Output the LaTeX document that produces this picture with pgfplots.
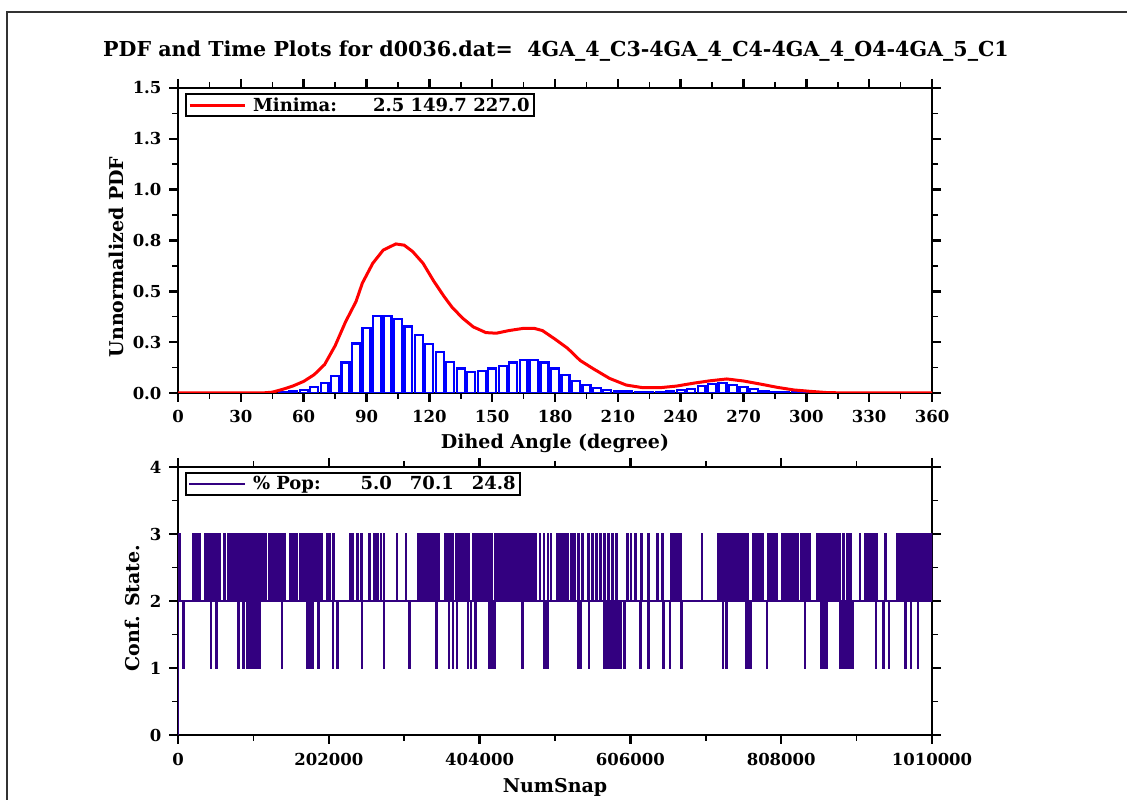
\documentclass[border=0pt]{standalone}
\usepackage{fontspec}
\setmainfont{DejaVu Serif}
\usepackage{pgfplots}
\pgfplotsset{compat=1.18}
\definecolor{pcol}{RGB}{51,0,128}
\newcommand\tf{\bfseries\fontsize{16.5}{19}\selectfont}
\newcommand\lf{\bfseries\fontsize{19}{22}\selectfont}
\pgfplotsset{
  mystyle/.style={
    scale only axis,
    anchor=south west,
    tick align=outside,
    major tick length=9pt,
    minor tick length=6pt,
    every major tick/.append style={line width=2.5pt,black},
    every minor tick/.append style={line width=1.5pt,black},
    axis line style={line width=2.8pt},
    tick label style={font=\tf},
    yticklabel style={xshift=-4pt},
    label style={font=\lf},
    scaled ticks=false,
    legend cell align=left,
    legend style={at={(axis description cs:0,1)}, anchor=north west,
      xshift=7pt, yshift=-5pt, draw=black, line width=2pt,
      inner xsep=2pt, inner ysep=1.5pt, font=\bfseries\fontsize{18}{20}\selectfont},
  }
}
\begin{document}
\begin{tikzpicture}[x=1pt,y=1pt]
\useasboundingbox (0,0) rectangle (1127,800);
\draw[line width=1.2pt, black!80] (7,0) -- (7,788) -- (1127,788);
\node[font=\bfseries\fontsize{20.6}{24}\selectfont] at (556,749) {PDF and Time Plots for d0036.dat=\ \ 4GA\_4\_C3-4GA\_4\_C4-4GA\_4\_O4-4GA\_5\_C1};

\begin{axis}[mystyle, at={(178pt,407pt)}, width=754pt, height=305pt,
  xmin=0, xmax=360, ymin=0, ymax=1.5,
  xtick={0,30,60,90,120,150,180,210,240,270,300,330,360},
  xticklabels={0,30,60,90,120,150,180,210,240,270,300,330,360},
  xticklabel style={yshift=-5pt},
  minor x tick num=1,
  ytick={0,0.25,0.5,0.75,1,1.25,1.5},
  yticklabels={0.0,0.3,0.5,0.8,1.0,1.3,1.5},
  minor y tick num=1,
  xlabel={Dihed Angle (degree)}, ylabel={Unnormalized PDF},
  xlabel style={at={(axis description cs:0.5,-0.164)}, anchor=center},
  ylabel style={at={(axis description cs:-0.082,0.446)}, anchor=center},
]
\addplot[ybar, bar width=3.8, draw=blue, fill=white, line width=2.2pt, forget plot] coordinates {
(50,0.005) (55,0.008) (60,0.015) (65,0.028) (70,0.048) (75,0.085) (80,0.15) (85,0.243)
(90,0.32) (95,0.377) (100,0.38) (105,0.362) (110,0.327) (115,0.287) (120,0.242) (125,0.2)
(130,0.154) (135,0.12) (140,0.105) (145,0.11) (150,0.12) (155,0.134) (160,0.15) (165,0.162)
(170,0.164) (175,0.15) (180,0.12) (185,0.09) (190,0.06) (195,0.041) (200,0.026) (205,0.016)
(210,0.01) (215,0.008) (220,0.005) (225,0.004) (230,0.005) (235,0.011) (240,0.016) (245,0.021)
(250,0.033) (255,0.043) (260,0.048) (265,0.038) (270,0.028) (275,0.018) (280,0.01) (285,0.006)
(290,0.004) (295,0.003) (300,0.002)};
\addplot[red, line width=3pt, legend image code/.code={\draw[red,line width=3pt] (0pt,0pt) -- (55pt,0pt);}] coordinates {
(0,0) (40,0) (45,0.004) (50,0.018) (55,0.035) (60,0.057) (65,0.09) (70,0.14) (75,0.232)
(80,0.35) (85,0.45) (88,0.54) (93,0.638) (98,0.703) (104,0.733) (108,0.727) (112,0.696)
(117,0.638) (122,0.552) (127,0.475) (131,0.42) (136,0.367) (141,0.325) (147,0.297) (152,0.294)
(158,0.307) (165,0.318) (170,0.318) (174,0.307) (180,0.265) (186,0.22) (192,0.16) (198,0.121)
(206,0.072) (214,0.039) (222,0.026) (230,0.026) (238,0.034) (246,0.048) (254,0.06) (262,0.069)
(270,0.059) (278,0.044) (286,0.028) (294,0.015) (302,0.008) (310,0.002) (320,0) (360,0)};
\addlegendentry{\hspace*{5pt}Minima:\hspace*{36pt}2.5 149.7 227.0}
\end{axis}

\begin{axis}[mystyle, at={(178pt,65pt)}, width=754pt, height=268pt,
  xmin=0, xmax=1010000, ymin=0, ymax=4,
  xtick={0,202000,404000,606000,808000,1010000},
  xticklabels={0,202000,404000,606000,808000,1010000},
  xticklabel style={yshift=-6pt},
  minor x tick num=1,
  ytick={0,1,2,3,4}, yticklabels={0,1,2,3,4},
  minor y tick num=1,
  xlabel={NumSnap}, ylabel={Conf. State.},
  xlabel style={at={(axis description cs:0.5,-0.194)}, anchor=center},
  ylabel style={at={(axis description cs:-0.061,0.474)}, anchor=center},
]
\addplot[const plot, draw=pcol, fill=pcol, line width=2pt,
  legend image code/.code={\draw[pcol,line width=2pt] (0pt,0pt) -- (56pt,0pt);}] coordinates {
(0,2) (2000,3) (2600,2) (20000,3) (29400,2) (36000,3) (56000,2) (62000,3) (62600,2)
(67400,3) (96000,2) (99400,3) (118000,2) (122000,3) (142700,2) (149400,3) (160000,2) (164000,3) (192800,2)
(199500,3) (200100,2) (202800,3) (203400,2) (208100,3) (208700,2) (231000,3) (231600,2)
(233500,3) (234100,2) (240000,3) (240600,2) (245500,3) (246100,2) (256500,3) (257100,2)
(262800,3) (263400,2) (267000,3) (267600,2) (271500,3) (272100,2) (276000,3) (276600,2)
(293000,3) (293600,2) (305000,3) (305600,2) (321500,3) (349500,2) (357500,3) (368200,2)
(372900,3) (389600,2) (394900,3) (420000,2) (424000,3) (449600,2) (451000,3) (479600,2)
(484300,3) (484900,2) (489600,3) (490200,2) (495000,3) (495600,2) (499600,3) (500200,2)
(508300,3) (523000,2) (527000,3) (527600,2) (531000,3) (531600,2) (536300,3) (536900,2)
(541700,3) (542300,2) (549700,3) (550300,2) (555000,3) (555600,2) (560400,3) (561000,2)
(565700,3) (566300,2) (571000,3) (571600,2) (576400,3) (577000,2) (581700,3) (582300,2)
(587000,3) (587600,2) (601700,3) (602300,2) (606400,3) (607000,2) (612400,3) (613000,2)
(620400,3) (621000,2) (629700,3) (630300,2) (641700,3) (642300,2) (648400,3) (649000,2)
(659800,3) (673100,2) (701800,3) (702400,2) (723100,3) (736500,2) (739800,3) (763200,2)
(769800,3) (783200,2) (789800,3) (801900,2) (808500,3) (830000,2) (834000,3) (846600,2)
(856600,3) (886600,2) (891200,3) (891800,2) (896600,3) (897200,2) (900600,3) (901200,2)
(913300,3) (913900,2) (919900,3) (936600,2) (947300,3) (947900,2) (963300,3) (1010000,2)};
\addlegendentry{\hspace*{5pt}\% Pop:\hspace*{40pt}5.0\hspace*{18pt}70.1\hspace*{18pt}24.8}
\addplot[const plot, draw=pcol, fill=pcol, line width=2pt, forget plot] coordinates {
(0,2) (7300,1) (7900,2) (44000,1) (44600,2) (51400,1) (52000,2) (80700,1) (81300,2)
(87400,1) (88000,2) (92700,1) (93300,2) (94700,1) (99000,2) (101500,1) (104500,2) (106500,1) (109400,2)
(138800,1) (139400,2) (172800,1) (181500,2) (188100,1) (188700,2) (207500,1) (208100,2)
(213500,1) (214100,2) (246200,1) (246800,2) (275500,1) (276100,2) (309500,1) (310100,2)
(346200,1) (346800,2) (362900,1) (363500,2) (368200,1) (368800,2) (373600,1) (374200,2)
(388300,1) (388900,2) (392300,1) (392900,2) (398300,1) (398900,2) (416300,1) (424300,2)
(461000,1) (461600,2) (489600,1) (495000,2) (536300,1) (536900,2) (539700,1) (540300,2)
(550400,1) (551000,2) (571000,1) (571600,2) (575000,1) (575600,2) (579000,1) (593100,2)
(597700,1) (598300,2) (619100,1) (619700,2) (629700,1) (630300,2) (649800,1) (650400,2)
(658400,1) (659000,2) (674400,1) (675000,2) (729800,1) (730400,2) (734500,1) (735100,2)
(760500,1) (767200,2) (788500,1) (789100,2) (839900,1) (840500,2) (861900,1) (869900,2)
(886600,1) (889000,2) (891000,1) (896000,2) (899000,1) (904600,2) (934600,1) (935200,2)
(944600,1) (945200,2) (952000,1) (952600,2) (974000,1) (974600,2) (981300,1) (981900,2)
(991300,1) (991900,2) (1010000,2)};
\addplot[pcol, line width=2pt, forget plot] coordinates {(0,0) (0,3)};
\end{axis}
\end{tikzpicture}
\end{document}
